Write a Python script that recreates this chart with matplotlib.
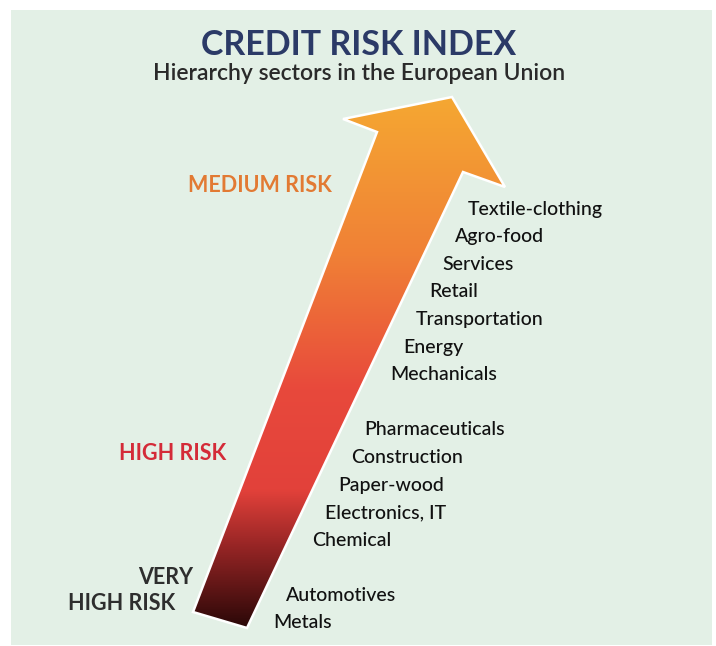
import matplotlib.pyplot as plt
import numpy as np
from matplotlib.patches import Polygon, Rectangle
from matplotlib.colors import LinearSegmentedColormap

# sectors, from lowest risk (top) to highest risk (bottom)
sectors = ['Textile-clothing', 'Agro-food', 'Services', 'Retail', 'Transportation',
           'Energy', 'Mechanicals', 'Pharmaceuticals', 'Construction', 'Paper-wood',
           'Electronics, IT', 'Chemical', 'Automotives', 'Metals']
rank = [0, 1, 2, 3, 4, 5, 6, 8, 9, 10, 11, 12, 14, 15]

risk_colors = ['#E27A33', '#D42B38', '#2E2E2E']

W, H = 716, 646
plt.rcParams['font.family'] = ['Lato', 'DejaVu Sans']

fig = plt.figure(figsize=(W / 100, H / 100), dpi=100)
ax = fig.add_axes([0, 0, 1, 1])
ax.set_xlim(0, W)
ax.set_ylim(H, 0)
ax.axis('off')

ax.add_patch(Rectangle((11, 10), 701, 635, facecolor='#E3F0E6', edgecolor='none', zorder=0))

# arrow shape
arrow = np.array([(193, 612), (377, 132), (343, 119), (452, 97), (505, 187),
                  (463, 172), (247, 628)])
cmap = LinearSegmentedColormap.from_list('risk', [
    (0.00, '#F5A832'), (0.30, '#F08036'), (0.55, '#E8493C'),
    (0.74, '#E2413A'), (0.84, '#9A2626'), (1.00, '#280707')])
grad = np.linspace(0, 1, 256).reshape(-1, 1)
img = ax.imshow(grad, cmap=cmap, extent=(190, 510, 630, 95), aspect='auto', zorder=2)
poly = Polygon(arrow, closed=True, facecolor='none', edgecolor='white', lw=1.8, zorder=3)
ax.add_patch(poly)
img.set_clip_path(poly)

ax.text(359, 45, 'CREDIT RISK INDEX', ha='center', va='center', fontsize=24.5,
        fontweight='bold', color='#2B3A67')
ax.text(359, 73, 'Hierarchy sectors in the European Union', ha='center', va='center',
        fontsize=16.5, fontweight='semibold', color='#2A2A2A')

ax.text(188, 185, 'MEDIUM RISK', ha='left', va='center', fontsize=15.5,
        fontweight='bold', color=risk_colors[0])
ax.text(119, 453, 'HIGH RISK', ha='left', va='center', fontsize=15.5,
        fontweight='bold', color=risk_colors[1])
ax.text(138, 577, 'VERY', ha='left', va='center', fontsize=15.5,
        fontweight='bold', color=risk_colors[2])
ax.text(68, 603, 'HIGH RISK', ha='left', va='center', fontsize=15.5,
        fontweight='bold', color=risk_colors[2])

for name, r in zip(sectors, rank):
    ax.text(468 - r * 13, 209 + r * 27.6, name, ha='left', va='center',
            fontsize=14, fontweight='medium', color='#111111')

fig.savefig('out.png', dpi=100)
